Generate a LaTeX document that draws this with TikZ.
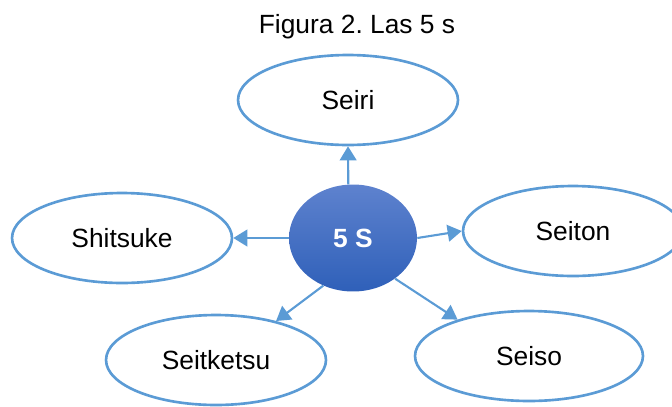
\documentclass[tikz,border=0pt]{standalone}
\usepackage{fontspec}
\setmainfont{Liberation Sans}
\usetikzlibrary{arrows.meta,shapes.geometric}

\definecolor{azul}{RGB}{91,155,213}
\definecolor{azulclaro}{RGB}{94,130,206}
\definecolor{azuloscuro}{RGB}{47,96,185}

\begin{document}
\begin{tikzpicture}[
  x=0.02cm, y=-0.02cm,
  etapa/.style={draw=azul,ellipse,line width=1.5pt,minimum width=4.4cm,minimum height=1.8cm,
    inner sep=0pt,font=\fontsize{15}{18}\selectfont},
  centro/.style={ellipse,minimum width=2.56cm,minimum height=2.14cm,inner sep=0pt,
    top color=azulclaro,bottom color=azuloscuro,text=white,font=\fontsize{15}{18}\selectfont\bfseries},
  flecha/.style={-{Triangle[length=8pt,width=9.5pt]},draw=azul,line width=1.2pt}
]
  \useasboundingbox (0,0) rectangle (672,406);

  % title
  \node[anchor=base,font=\fontsize{15}{18}\selectfont] (titulo) at (357,33) {Figura 2.\ Las 5 s};

  % centre
  \node[centro] (c) at (353,238) {5 S};

  % the five stages
  \node[etapa] (seiri) at (348,100) {Seiri};
  \node[etapa] (seiton) at (573,231) {Seiton};
  \node[etapa,minimum width=4.56cm] (seiso) at (529,356) {Seiso};
  \node[etapa] (seitketsu) at (216,360) {Seitketsu};
  \node[etapa] (shitsuke) at (122,238) {Shitsuke};

  % arrows
  \draw[flecha] (c.95) -- (seiri.south);
  \draw[flecha] (c.east) -- (seiton.west);
  \draw[flecha] (c.316) -- (seiso.153);
  \draw[flecha] (c.238) -- (seitketsu.33);
  \draw[flecha] (c.west) -- (shitsuke.east);

\end{tikzpicture}
\end{document}
